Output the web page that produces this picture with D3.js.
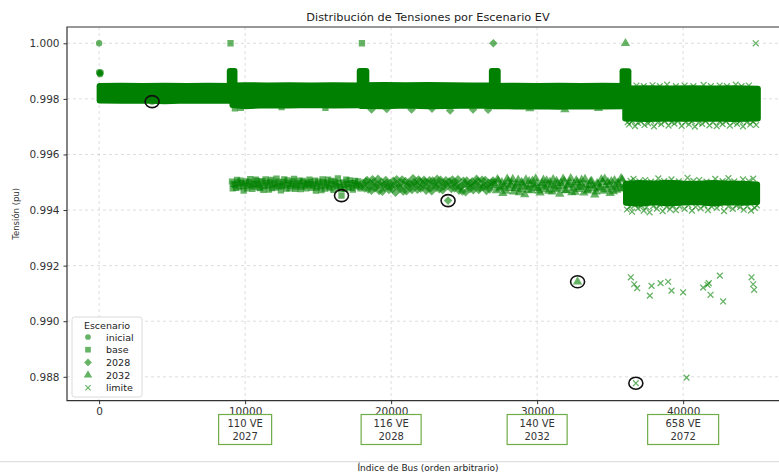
<!DOCTYPE html>
<html><head><meta charset="utf-8">
<script src="https://cdn.jsdelivr.net/npm/d3@7"></script>
<style>
body{margin:0;background:#fff;}
svg{display:block;}
text{font-family:"DejaVu Sans",sans-serif;}
</style></head><body>
<svg id="chart" width="779" height="473"></svg>
<script>
// ---------- DATA ----------
const scenarios = ["inicial", "base", "2028", "2032", "limite"];
const xTicks = [0, 10000, 20000, 30000, 40000];
const yTicks = [0.988, 0.990, 0.992, 0.994, 0.996, 0.998, 1.000];
const annotLabels = [["110 VE", "2027"], ["116 VE", "2028"], ["140 VE", "2032"], ["658 VE", "2072"]];
const annotAt = [10000, 20000, 30000, 40000];

// dense main band envelopes: [bus index, low, high]
const bandInicial = [[0,0.99792,0.99848],[1500,0.99791,0.99849],[3000,0.99792,0.99848],[4500,0.99790,0.99849],[6000,0.99792,0.99848],[7500,0.99791,0.99849],[9000,0.99791,0.99848]];
const bandBase = [[9100,0.99776,0.99850],[10000,0.99772,0.99851],[11500,0.99775,0.99850],[13000,0.99774,0.99851],[14500,0.99776,0.99850],[16000,0.99774,0.99851],[17900,0.99775,0.99850]];
const band2028 = [[17900,0.99773,0.99851],[19500,0.99772,0.99852],[21000,0.99774,0.99851],[22500,0.99772,0.99852],[24000,0.99773,0.99851],[25500,0.99774,0.99850],[27000,0.99773,0.99850]];
const band2032 = [[27000,0.99772,0.99848],[28500,0.99771,0.99849],[30000,0.99772,0.99848],[31500,0.99770,0.99849],[33000,0.99772,0.99848],[34500,0.99771,0.99849],[36000,0.99772,0.99848]];
const bandLimite = [[36000,0.99728,0.99839],[37500,0.99726,0.99840],[39000,0.99728,0.99839],[40500,0.99727,0.99840],[42000,0.99728,0.99839],[43500,0.99726,0.99840],[45150,0.99728,0.99838]];
const bandLimiteMid = [[36050,0.99424,0.99496],[37000,0.99421,0.99499],[38000,0.99426,0.99497],[39000,0.99422,0.99500],[40000,0.99425,0.99497],[41000,0.99427,0.99496],[42000,0.99422,0.99499],[43000,0.99426,0.99497],[44000,0.99424,0.99496],[45100,0.99427,0.99494]];
// spikes at the start of each block: [scenario, from, to, low, high]
const spikes = [["base",8950,9270,0.99850,0.99900],["2028",17850,18300,0.99850,0.99900],["2032",26900,27300,0.99849,0.99900],["limite",35850,36250,0.99838,0.99899]];

// scattered points: [bus index, tension]
const ptsInicial = [[0,1.00000],[0,0.99896],[70,0.99889],[40,0.99892],[110,0.99895],[3630,0.99790]];
const ptsBase = [[9000,1.00000],[18000,1.00000],
[9100,0.99502],[9150,0.99478],[9300,0.99490],[9450,0.99508],[9600,0.99483],[9750,0.99497],[9900,0.99470],[10050,0.99503],[10200,0.99488],[10350,0.99511],[10500,0.99476],[10650,0.99495],[10800,0.99505],[10950,0.99482],[11100,0.99499],[11250,0.99473],[11400,0.99510],[11550,0.99489],[11700,0.99501],[11850,0.99479],[12000,0.99496],[12150,0.99513],[12300,0.99485],[12450,0.99471],[12600,0.99500],[12750,0.99490],[12900,0.99507],[13050,0.99478],[13200,0.99494],[13350,0.99512],[13500,0.99484],[13650,0.99498],[13800,0.99475],[13950,0.99505],[14100,0.99488],[14250,0.99496],[14400,0.99509],[14550,0.99480],[14700,0.99493],[14850,0.99470],[15000,0.99502],[15150,0.99486],[15300,0.99510],[15450,0.99477],[15600,0.99497],[15750,0.99484],[15900,0.99505],[16050,0.99473],[16200,0.99492],[16350,0.99514],[16500,0.99482],[16600,0.99452],[16700,0.99499],[16850,0.99476],[17000,0.99494],[17150,0.99507],[17300,0.99480],[17450,0.99497],[17600,0.99488],[17750,0.99503],[17900,0.99478],
[9200,0.99494],[9380,0.99480],[9520,0.99499],[9680,0.99506],[9830,0.99487],[9980,0.99495],[10130,0.99478],[10280,0.99500],[10430,0.99492],[10580,0.99484],[10730,0.99509],[10880,0.99491],[11030,0.99479],[11180,0.99504],[11330,0.99486],[11480,0.99497],[11630,0.99474],[11780,0.99508],[11930,0.99490],[12080,0.99481],[12230,0.99502],[12380,0.99493],[12530,0.99486],[12680,0.99510],[12830,0.99477],[12980,0.99498],[13130,0.99488],[13280,0.99503],[13430,0.99476],[13580,0.99491],[13730,0.99506],[13880,0.99484],[14030,0.99499],[14180,0.99478],[14330,0.99492],[14480,0.99501],[14630,0.99487],[14780,0.99506],[14930,0.99481],[15080,0.99495],[15230,0.99472],[15380,0.99500],[15530,0.99489],[15680,0.99509],[15830,0.99479],[15980,0.99494],[16130,0.99502],[16280,0.99485],[16430,0.99497],[16580,0.99475],[16780,0.99490],[16930,0.99509],[17080,0.99483],[17230,0.99496],[17380,0.99474],[17530,0.99505],[17680,0.99492],[17830,0.99484],
[9300,0.99766],[9700,0.99768],[12500,0.99770],[15500,0.99768]];
const pts2028 = [[27000,1.00000],
[18050,0.99497],[18200,0.99478],[18350,0.99508],[18500,0.99487],[18650,0.99470],[18800,0.99500],[18950,0.99483],[19100,0.99512],[19250,0.99491],[19400,0.99466],[19550,0.99480],[19700,0.99498],[19850,0.99472],[20000,0.99486],[20150,0.99505],[20300,0.99462],[20450,0.99493],[20600,0.99476],[20750,0.99510],[20900,0.99488],[21050,0.99468],[21200,0.99500],[21350,0.99481],[21500,0.99514],[21650,0.99494],[21800,0.99473],[21950,0.99503],[22100,0.99485],[22250,0.99509],[22400,0.99470],[22550,0.99496],[22700,0.99479],[22850,0.99506],[23000,0.99489],[23150,0.99512],[23300,0.99475],[23450,0.99498],[23600,0.99484],[23750,0.99507],[23900,0.99434],[24050,0.99492],[24200,0.99510],[24350,0.99478],[24500,0.99497],[24650,0.99470],[24800,0.99486],[24950,0.99505],[25100,0.99464],[25250,0.99490],[25400,0.99476],[25550,0.99503],[25700,0.99487],[25850,0.99512],[26000,0.99472],[26150,0.99495],[26300,0.99482],[26450,0.99508],[26600,0.99490],[26750,0.99474],[26900,0.99500],
[18120,0.99490],[18280,0.99503],[18430,0.99474],[18580,0.99496],[18730,0.99511],[18880,0.99478],[19030,0.99493],[19180,0.99469],[19330,0.99502],[19480,0.99489],[19630,0.99508],[19780,0.99484],[19930,0.99497],[20080,0.99475],[20230,0.99490],[20380,0.99511],[20530,0.99482],[20680,0.99499],[20830,0.99467],[20980,0.99504],[21130,0.99486],[21280,0.99495],[21430,0.99472],[21580,0.99500],[21730,0.99488],[21880,0.99510],[22030,0.99477],[22180,0.99493],[22330,0.99502],[22480,0.99483],[22630,0.99507],[22780,0.99468],[22930,0.99497],[23080,0.99480],[23230,0.99493],[23380,0.99509],[23530,0.99471],[23680,0.99495],[23830,0.99486],[23980,0.99503],[24130,0.99476],[24280,0.99499],[24430,0.99488],[24580,0.99511],[24730,0.99481],[24880,0.99467],[25030,0.99494],[25180,0.99506],[25330,0.99483],[25480,0.99497],[25630,0.99471],[25780,0.99492],[25930,0.99504],[26080,0.99479],[26230,0.99509],[26380,0.99487],[26530,0.99469],[26680,0.99498],[26830,0.99484],[26980,0.99506],
[18660,0.99762],[19700,0.99764],[21400,0.99762],[22800,0.99765],[24040,0.99758],[25610,0.99762],[26640,0.99761]];
const pts2032 = [[36050,1.00000],[32770,0.99142],
[27050,0.99496],[27200,0.99470],[27350,0.99505],[27500,0.99482],[27650,0.99460],[27800,0.99492],[27950,0.99512],[28100,0.99478],[28250,0.99498],[28400,0.99466],[28550,0.99486],[28700,0.99508],[28850,0.99474],[29000,0.99494],[29150,0.99456],[29300,0.99484],[29450,0.99503],[29600,0.99470],[29750,0.99490],[29900,0.99513],[30050,0.99478],[30200,0.99462],[30350,0.99497],[30500,0.99483],[30650,0.99506],[30800,0.99468],[30950,0.99489],[31100,0.99510],[31250,0.99474],[31400,0.99495],[31550,0.99458],[31700,0.99485],[31850,0.99504],[32000,0.99471],[32150,0.99492],[32300,0.99514],[32450,0.99479],[32600,0.99465],[32750,0.99499],[32900,0.99482],[33050,0.99508],[33200,0.99462],[33350,0.99490],[33500,0.99473],[33650,0.99502],[33800,0.99486],[33950,0.99455],[34100,0.99496],[34250,0.99476],[34400,0.99510],[34550,0.99468],[34700,0.99488],[34850,0.99500],[35000,0.99460],[35150,0.99481],[35300,0.99507],[35450,0.99472],[35600,0.99493],[35750,0.99514],[35900,0.99478],
[27120,0.99488],[27280,0.99510],[27430,0.99476],[27580,0.99499],[27730,0.99485],[27880,0.99468],[28030,0.99503],[28180,0.99490],[28330,0.99511],[28480,0.99478],[28630,0.99494],[28780,0.99463],[28930,0.99500],[29080,0.99484],[29230,0.99509],[29380,0.99472],[29530,0.99491],[29680,0.99505],[29830,0.99480],[29980,0.99496],[30130,0.99469],[30280,0.99487],[30430,0.99508],[30580,0.99474],[30730,0.99493],[30880,0.99501],[31030,0.99466],[31180,0.99485],[31330,0.99504],[31480,0.99479],[31630,0.99497],[31780,0.99512],[31930,0.99470],[32080,0.99488],[32230,0.99500],[32380,0.99463],[32530,0.99491],[32680,0.99507],[32830,0.99475],[32980,0.99495],[33130,0.99484],[33280,0.99511],[33430,0.99469],[33580,0.99489],[33730,0.99504],[33880,0.99478],[34030,0.99466],[34180,0.99493],[34330,0.99482],[34480,0.99500],[34630,0.99512],[34780,0.99474],[34930,0.99491],[35080,0.99503],[35230,0.99467],[35380,0.99486],[35530,0.99498],[35680,0.99476],[35830,0.99509],[35980,0.99488],
[29500,0.99765],[31900,0.99762],[34200,0.99766]];
const ptsLimite = [[44970,1.00000],
[36418,0.99158],[36644,0.99133],[36849,0.99119],[37719,0.99092],[37836,0.99127],[38452,0.99137],[38973,0.99142],[39205,0.99110],[40000,0.99104],[41370,0.99121],[41671,0.99131],[41760,0.99137],[41877,0.99095],[42514,0.99164],[42740,0.99071],[44685,0.99158],[44795,0.99133],[44863,0.99113],[40233,0.98797],[36760,0.98777],
[36150,0.99402],[36350,0.99412],[36500,0.99394],[36700,0.99418],[36900,0.99406],[37150,0.99415],[37300,0.99398],[37500,0.99410],[37700,0.99392],[37950,0.99414],[38200,0.99405],[38400,0.99419],[38600,0.99396],[38850,0.99412],[39100,0.99403],[39300,0.99416],[39500,0.99400],[39750,0.99413],[40100,0.99404],[40350,0.99418],[40600,0.99398],[40850,0.99411],[41200,0.99406],[41450,0.99417],[41700,0.99400],[41950,0.99412],[42300,0.99408],[42550,0.99419],[42800,0.99396],[43100,0.99413],[43400,0.99404],[43650,0.99416],[43900,0.99410],[44150,0.99401],[44400,0.99414],[44650,0.99398],[44900,0.99408],[45050,0.99417],
[36400,0.99505],[36600,0.99512],[37000,0.99503],[37400,0.99508],[37800,0.99502],[38300,0.99514],[38700,0.99504],[39200,0.99510],[39700,0.99503],[40300,0.99516],[40700,0.99505],[41100,0.99508],[41600,0.99502],[42200,0.99512],[42700,0.99504],[43100,0.99515],[43500,0.99503],[44100,0.99510],[44500,0.99504],[44800,0.99513],
[36200,0.99716],[36300,0.99708],[36500,0.99720],[36700,0.99702],[36900,0.99714],[37100,0.99718],[37350,0.99706],[37600,0.99712],[37800,0.99721],[38000,0.99701],[38250,0.99715],[38500,0.99709],[38750,0.99719],[39000,0.99704],[39200,0.99717],[39400,0.99711],[39650,0.99720],[39900,0.99703],[40150,0.99716],[40400,0.99708],[40600,0.99719],[40800,0.99700],[41050,0.99714],[41300,0.99710],[41550,0.99720],[41800,0.99705],[42050,0.99716],[42300,0.99702],[42500,0.99718],[42700,0.99709],[42950,0.99719],[43200,0.99704],[43450,0.99715],[43700,0.99710],[43900,0.99720],[44100,0.99701],[44350,0.99716],[44600,0.99708],[44800,0.99718],[45000,0.99706],
[36800,0.99848],[37300,0.99846],[37900,0.99849],[38400,0.99846],[38900,0.99851],[39500,0.99846],[40100,0.99848],[40700,0.99846],[41400,0.99850],[41900,0.99846],[42500,0.99848],[43000,0.99846],[43600,0.99851],[44000,0.99846],[44500,0.99848]];
// minimum-voltage points circled in black
const ringed = [[3630,0.99790],[16600,0.99452],[23900,0.99434],[32770,0.99142],[36760,0.98777]];

// ---------- DRAW ----------
const svg = d3.select("#chart");
const pL = 67, pR = 789, pT = 27, pB = 400.7;
const x = d3.scaleLinear().domain([-2200, 47250]).range([pL, pR]);
const y = d3.scaleLinear().domain([0.98714, 1.000586]).range([pB, pT]);
const green = "#008000";
const light = "rgba(0,128,0,0.6)";

svg.append("defs").append("clipPath").attr("id","clip")
  .append("rect").attr("x",pL).attr("y",pT).attr("width",pR-pL).attr("height",pB-pT);

// title
svg.append("text").attr("x",(pL+pR)/2).attr("y",21).attr("text-anchor","middle")
  .attr("font-size",11.3).attr("fill","#222").text("Distribución de Tensiones por Escenario EV");

// grid
const grid = svg.append("g");
grid.selectAll(".gx").data(xTicks).join("line")
  .attr("x1",d=>x(d)).attr("x2",d=>x(d)).attr("y1",pT).attr("y2",pB)
  .attr("stroke","#d4d4d4").attr("stroke-width",0.8).attr("stroke-dasharray","3,3");
grid.selectAll(".gy").data(yTicks).join("line")
  .attr("x1",pL).attr("x2",pR).attr("y1",d=>y(d)).attr("y2",d=>y(d))
  .attr("stroke","#d4d4d4").attr("stroke-width",0.8).attr("stroke-dasharray","3,3");

const plot = svg.append("g").attr("clip-path","url(#clip)");
const area = d3.area().x(d=>x(d[0])).y0(d=>y(d[1])).y1(d=>y(d[2]));
[bandInicial, bandBase, band2028, band2032, bandLimite, bandLimiteMid].forEach(b=>{
  plot.append("path").attr("d",area(b)).attr("fill",green)
    .attr("stroke",green).attr("stroke-width",5).attr("stroke-linejoin","round");
});
spikes.forEach(s=>{
  plot.append("path").attr("d",area([[s[1],s[3],s[4]],[s[2],s[3],s[4]]])).attr("fill",green)
    .attr("stroke",green).attr("stroke-width",6).attr("stroke-linejoin","round");
});

function markerPath(kind){
  if(kind==="inicial") return d3.symbol(d3.symbolCircle,32)();
  if(kind==="base") return d3.symbol(d3.symbolSquare,40)();
  if(kind==="2028") return "M0,-4.3L4.3,0L0,4.3L-4.3,0Z";
  if(kind==="2032") return d3.symbol(d3.symbolTriangle,38)();
  return "M-2.9,-2.9L2.9,2.9M-2.9,2.9L2.9,-2.9";
}
function drawPts(pts, kind){
  const sel = plot.selectAll(null).data(pts).join("path")
    .attr("transform",d=>`translate(${x(d[0])},${y(d[1])})`)
    .attr("d",markerPath(kind));
  if(kind==="limite") sel.attr("fill","none").attr("stroke",light).attr("stroke-width",1.3);
  else sel.attr("fill",light);
}
drawPts(ptsInicial,"inicial");
drawPts(ptsBase,"base");
drawPts(pts2028,"2028");
drawPts(pts2032,"2032");
drawPts(ptsLimite,"limite");

plot.selectAll(null).data(ringed).join("ellipse")
  .attr("cx",d=>x(d[0])).attr("cy",d=>y(d[1])).attr("rx",7).attr("ry",6)
  .attr("fill","none").attr("stroke","#111").attr("stroke-width",1.6);

// axes
const axL = svg.append("g").attr("transform",`translate(${pL},0)`)
  .call(d3.axisLeft(y).tickValues(yTicks).tickFormat(d3.format(".3f")).tickSize(3.5).tickPadding(4));
const axB = svg.append("g").attr("transform",`translate(0,${pB})`)
  .call(d3.axisBottom(x).tickValues(xTicks).tickFormat(d3.format("d")).tickSize(3.5).tickPadding(3));
[axL,axB].forEach(a=>{
  a.select(".domain").remove();
  a.selectAll("line").attr("stroke","#333");
  a.selectAll("text").attr("font-family","DejaVu Sans").attr("font-size",10.5).attr("fill","#333");
});
// frame
svg.append("path").attr("d",`M${pR},${pT}H${pL}V${pB}H${pR}`)
  .attr("fill","none").attr("stroke","#333").attr("stroke-width",1.2);

svg.append("text").attr("transform",`translate(19,${(pT+pB)/2}) rotate(-90)`)
  .attr("text-anchor","middle").attr("font-size",8.5).attr("fill","#333").text("Tensión (pu)");

// legend
const lg = svg.append("g");
lg.append("rect").attr("x",72).attr("y",317).attr("width",70).attr("height",80).attr("rx",2.5)
  .attr("fill","#fff").attr("fill-opacity",0.85).attr("stroke","#d0d0d0").attr("stroke-width",0.8);
lg.append("text").attr("x",107).attr("y",329).attr("text-anchor","middle").attr("font-size",9.5).attr("fill","#222").text("Escenario");
scenarios.forEach((s,i)=>{
  const yy = 337 + i*12.7;
  const m = lg.append("path").attr("transform",`translate(88,${yy}) scale(0.9)`).attr("d",markerPath(s));
  if(s==="limite") m.attr("fill","none").attr("stroke",light).attr("stroke-width",1.3);
  else m.attr("fill",light);
  lg.append("text").attr("x",106).attr("y",yy+3.5).attr("font-size",9.5).attr("fill","#222").text(s);
});

// annotation boxes under ticks
const boxW = [53, 60, 60, 71];
annotAt.forEach((v,i)=>{
  const cx = x(v);
  svg.append("rect").attr("x",cx-boxW[i]/2).attr("y",414.5).attr("width",boxW[i]).attr("height",30)
    .attr("fill","#fff").attr("stroke","#70ad47").attr("stroke-width",1.2);
  svg.append("text").attr("x",cx).attr("y",427).attr("text-anchor","middle")
    .attr("font-family","Liberation Sans").attr("font-size",10).attr("fill","#333").text(annotLabels[i][0]);
  svg.append("text").attr("x",cx).attr("y",439.5).attr("text-anchor","middle")
    .attr("font-family","Liberation Sans").attr("font-size",10).attr("fill","#333").text(annotLabels[i][1]);
});

svg.append("line").attr("x1",0).attr("x2",779).attr("y1",461.7).attr("y2",461.7).attr("stroke","#d8d8d8").attr("stroke-width",1);
svg.append("text").attr("x",428).attr("y",471).attr("text-anchor","middle")
  .attr("font-size",9).attr("fill","#222").text("Índice de Bus (orden arbitrario)");
</script></body></html>
